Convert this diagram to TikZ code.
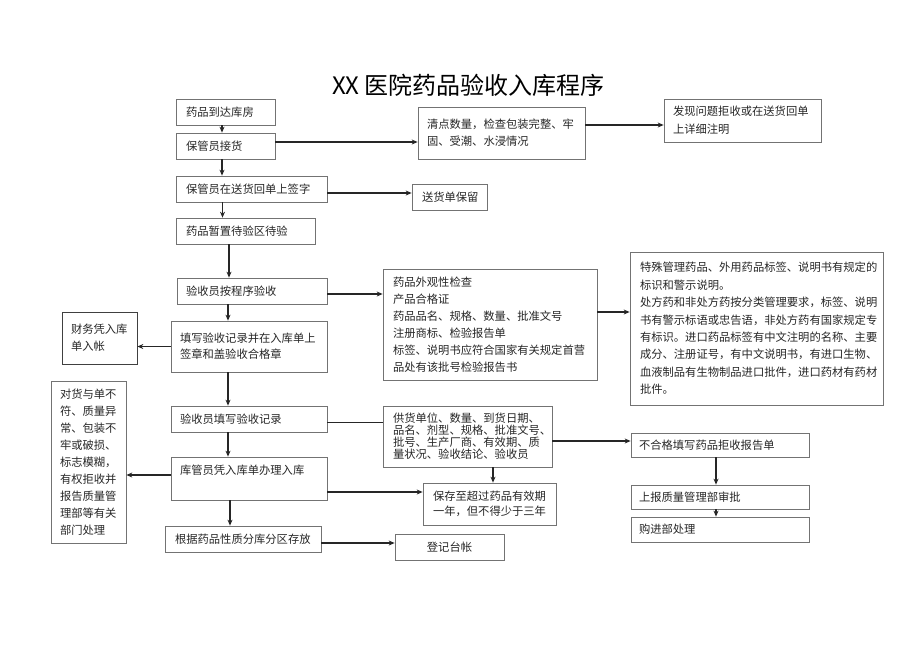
\documentclass[tikz,border=0pt]{standalone}
\usepackage{fontspec}
\newfontfamily\cjk{Noto Sans CJK SC}
\usetikzlibrary{arrows.meta}
\begin{document}
\begin{tikzpicture}[x=1pt,y=-1pt,
  bx/.style={draw=black!55,line width=0.7pt,rectangle,inner ysep=0pt,align=left,
    font=\cjk\fontsize{11.3}{17}\selectfont,text=black!85},
  bxc/.style={bx,align=center},
  arr/.style={draw=black!85,line width=1.1pt,-{Stealth[length=6pt,width=5pt]}},
  ln/.style={draw=black!85,line width=1.1pt}]
\useasboundingbox (0,0) rectangle (920,651);
\node[font=\cjk\fontsize{24}{28}\selectfont] (title) at (468.5,85) {XX 医院药品验收入库程序};
% left column
\node[bx,minimum width=99pt,minimum height=26pt,text width=79pt,inner xsep=10pt] (A) at (225.5,112) {药品到达库房};
\node[bx,minimum width=99pt,minimum height=26pt,text width=79pt,inner xsep=10pt] (B) at (225.5,146) {保管员接货};
\node[bx,minimum width=151pt,minimum height=26pt,text width=131pt,inner xsep=10pt] (C) at (251.5,189) {保管员在送货回单上签字};
\node[bx,minimum width=139pt,minimum height=26pt,text width=119pt,inner xsep=10pt] (D) at (245.5,231) {药品暂置待验区待验};
\node[bx,minimum width=150pt,minimum height=26pt,text width=132pt,inner xsep=9pt] (H) at (252,291) {验收员按程序验收};
\node[bx,minimum width=156pt,minimum height=51pt,text width=138pt,inner xsep=9pt,font=\cjk\fontsize{11.3}{16}\selectfont] (K) at (249,346.5) {填写验收记录并在入库单上\\签章和盖验收合格章};
\node[bx,minimum width=156pt,minimum height=26pt,text width=138pt,inner xsep=9pt] (M) at (249,419) {验收员填写验收记录};
\node[bx,minimum width=156pt,minimum height=43pt,text width=138pt,inner xsep=9pt] (O) at (249,478.5) {库管员凭入库单办理入库\\\mbox{}};
\node[bx,minimum width=156pt,minimum height=26pt,text width=136pt,inner xsep=10pt] (Q) at (243,539) {根据药品性质分库分区存放};
% far left
\node[bx,draw=black!75,minimum width=75pt,minimum height=52pt,text width=57pt,inner xsep=9pt] (L) at (99.5,338) {财务凭入库\\单入帐};
\node[bx,minimum width=75pt,minimum height=162pt,text width=57pt,inner xsep=9pt] (P) at (88.5,462) {对货与单不\\符、质量异\\常、包装不\\牢或破损、\\标志模糊，\\有权拒收并\\报告质量管\\理部等有关\\部门处理};
% middle column
\node[bx,minimum width=167pt,minimum height=52pt,text width=149pt,inner xsep=9pt] (E) at (501.5,133) {清点数量，检查包装完整、牢\\固、受潮、水浸情况};
\node[bx,minimum width=75pt,minimum height=26pt,text width=55pt,inner xsep=10pt] (F) at (449.5,197) {送货单保留};
\node[bx,minimum width=214pt,minimum height=111pt,text width=194pt,inner xsep=10pt] (I) at (490,324.5) {药品外观性检查\\产品合格证\\药品品名、规格、数量、批准文号\\注册商标、检验报告单\\标签、说明书应符合国家有关规定首营\\品处有该批号检验报告书};
\node[bx,minimum width=169pt,minimum height=61pt,text width=149pt,inner xsep=10pt,font=\cjk\fontsize{11.3}{12}\selectfont] (N) at (467.5,436.5) {供货单位、数量、到货日期、\\品名、剂型、规格、批准文号、\\批号、生产厂商、有效期、质\\量状况、验收结论、验收员};
\node[bxc,minimum width=133pt,minimum height=42pt,text width=123pt,inner xsep=5pt,font=\cjk\fontsize{11.3}{15}\selectfont] (R) at (489.5,504) {保存至超过药品有效期\\一年，但不得少于三年};
\node[bxc,minimum width=109pt,minimum height=26pt,text width=99pt,inner xsep=5pt] (S) at (449.5,547) {登记台帐};
% right column
\node[bx,minimum width=157pt,minimum height=43pt,text width=139pt,inner xsep=9pt,font=\cjk\fontsize{11.3}{18}\selectfont] (G) at (742.5,120.5) {发现问题拒收或在送货回单\\上详细注明};
\node[bx,minimum width=253pt,minimum height=153pt,text width=233pt,inner xsep=10pt,font=\cjk\fontsize{11.3}{17.4}\selectfont] (J) at (756.5,328.5) {特殊管理药品、外用药品标签、说明书有规定的\\标识和警示说明。\\处方药和非处方药按分类管理要求，标签、说明\\书有警示标语或忠告语，非处方药有国家规定专\\有标识。进口药品标签有中文注明的名称、主要\\成分、注册证号，有中文说明书，有进口生物、\\血液制品有生物制品进口批件，进口药材有药材\\批件。};
\node[bx,minimum width=178pt,minimum height=24pt,text width=162pt,inner xsep=8pt] (T) at (720,445) {不合格填写药品拒收报告单};
\node[bx,minimum width=178pt,minimum height=24pt,text width=162pt,inner xsep=8pt] (U) at (720,497) {上报质量管理部审批};
\node[bx,minimum width=178pt,minimum height=25pt,text width=162pt,inner xsep=8pt] (V) at (720,529.5) {购进部处理};
% vertical arrows
\draw[arr] ([xshift=-3.5pt]A.south) -- ([xshift=-3.5pt]A.south |- B.north);
\draw[arr] ([xshift=-3.5pt]B.south) -- ([xshift=-3.5pt]B.south |- C.north);
\draw[arr] ([xshift=-29pt]C.south) -- ([xshift=-29pt]C.south |- D.north);
\draw[arr] ([xshift=-16.5pt]D.south) -- ([xshift=-16.5pt]D.south |- H.north);
\draw[arr] ([xshift=-24pt]H.south) -- ([xshift=-24pt]H.south |- K.north);
\draw[arr] ([xshift=-21pt]K.south) -- ([xshift=-21pt]K.south |- M.north);
\draw[arr] ([xshift=-21pt]M.south) -- ([xshift=-21pt]M.south |- O.north);
\draw[arr] ([xshift=-19pt]O.south) -- ([xshift=-19pt]O.south |- Q.north);
\draw[arr] ([xshift=25.5pt]N.south) -- ([xshift=25.5pt]N.south |- R.north);
\draw[arr] ([xshift=-4pt]T.south) -- ([xshift=-4pt]T.south |- U.north);
\draw[arr] ([xshift=-4pt]U.south) -- ([xshift=-4pt]U.south |- V.north);
% horizontal arrows
\draw[arr] ([yshift=4pt]B.east) -- ([yshift=4pt]B.east -| E.west);
\draw[arr] ([yshift=8pt]E.east) -- ([yshift=8pt]E.east -| G.west);
\draw[arr] ([yshift=-4pt]C.east) -- ([yshift=-4pt]C.east -| F.west);
\draw[arr] ([yshift=-3pt]H.east) -- ([yshift=-3pt]H.east -| I.west);
\draw[arr] ([yshift=12.5pt]I.east) -- ([yshift=12.5pt]I.east -| J.west);
\draw[arr] (K.west) -- (K.west -| L.east);
\draw[ln] ([yshift=-3.5pt]M.east) -- ([yshift=-3.5pt]M.east -| N.west);
\draw[arr] ([yshift=-4.5pt]N.east) -- ([yshift=-4.5pt]N.east -| T.west);
\draw[arr] ([yshift=-13.5pt]O.east) -- ([yshift=-13.5pt]O.east -| R.west);
\draw[arr] ([yshift=3.5pt]O.west) -- ([yshift=3.5pt]O.west -| P.east);
\draw[arr] ([yshift=-4pt]Q.east) -- ([yshift=-4pt]Q.east -| S.west);
\end{tikzpicture}
\end{document}
